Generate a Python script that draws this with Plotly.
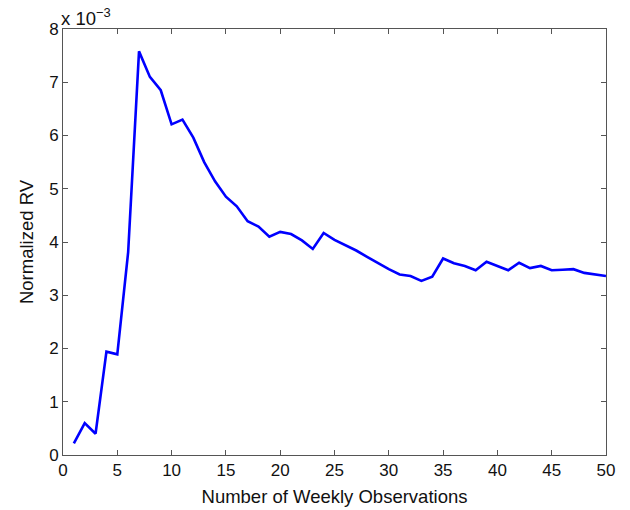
import plotly.graph_objects as go

# Number of weekly observations
weeks = list(range(1, 51))
# Normalized RV, in units of 1e-3
normalized_rv = [
    0.22, 0.60, 0.40, 1.94, 1.89, 3.81, 7.58, 7.10, 6.85, 6.21,
    6.30, 5.96, 5.50, 5.14, 4.85, 4.67, 4.39, 4.29, 4.10, 4.19,
    4.15, 4.03, 3.87, 4.17, 4.04, 3.94, 3.84, 3.72, 3.60, 3.49,
    3.39, 3.36, 3.27, 3.35, 3.69, 3.60, 3.55, 3.47, 3.63, 3.55,
    3.47, 3.61, 3.51, 3.55, 3.47, 3.48, 3.49, 3.42, 3.39, 3.36,
]
x_ticks = [0, 5, 10, 15, 20, 25, 30, 35, 40, 45, 50]
y_ticks = [0, 1, 2, 3, 4, 5, 6, 7, 8]

font_family = "Liberation Sans, Arial, Helvetica, sans-serif"
tick_font = dict(size=17, color="#111111", family=font_family)
title_font = dict(size=18.5, color="#111111", family=font_family)

fig = go.Figure()
fig.add_trace(go.Scatter(
    x=weeks, y=normalized_rv, mode="lines",
    line=dict(color="#0000ff", width=2.6),
    showlegend=False,
))

axis_common = dict(
    showgrid=False, zeroline=False, showline=True, mirror="ticks",
    linecolor="#555555", linewidth=1, ticks="inside", ticklen=5,
    tickcolor="#555555", tickfont=tick_font,
)
fig.update_xaxes(range=[0, 50], tickvals=x_ticks,
                 title=dict(text="Number of Weekly Observations",
                            font=title_font, standoff=10),
                 **axis_common)
fig.update_yaxes(range=[0, 8], tickvals=y_ticks,
                 title=dict(text="Normalized RV",
                            font=title_font, standoff=10),
                 **axis_common)

fig.add_annotation(
    x=0, y=1, xref="paper", yref="paper", xanchor="left", yanchor="bottom",
    text="x 10<sup>\u22123</sup>", showarrow=False, xshift=-4, yshift=-2,
    font=dict(size=18.5, color="#111111", family=font_family),
)

fig.update_layout(
    width=630, height=510,
    margin=dict(l=55, r=32, t=19, b=63),
    plot_bgcolor="white", paper_bgcolor="white",
    font=dict(family=font_family),
)

fig.write_html("out.html")
